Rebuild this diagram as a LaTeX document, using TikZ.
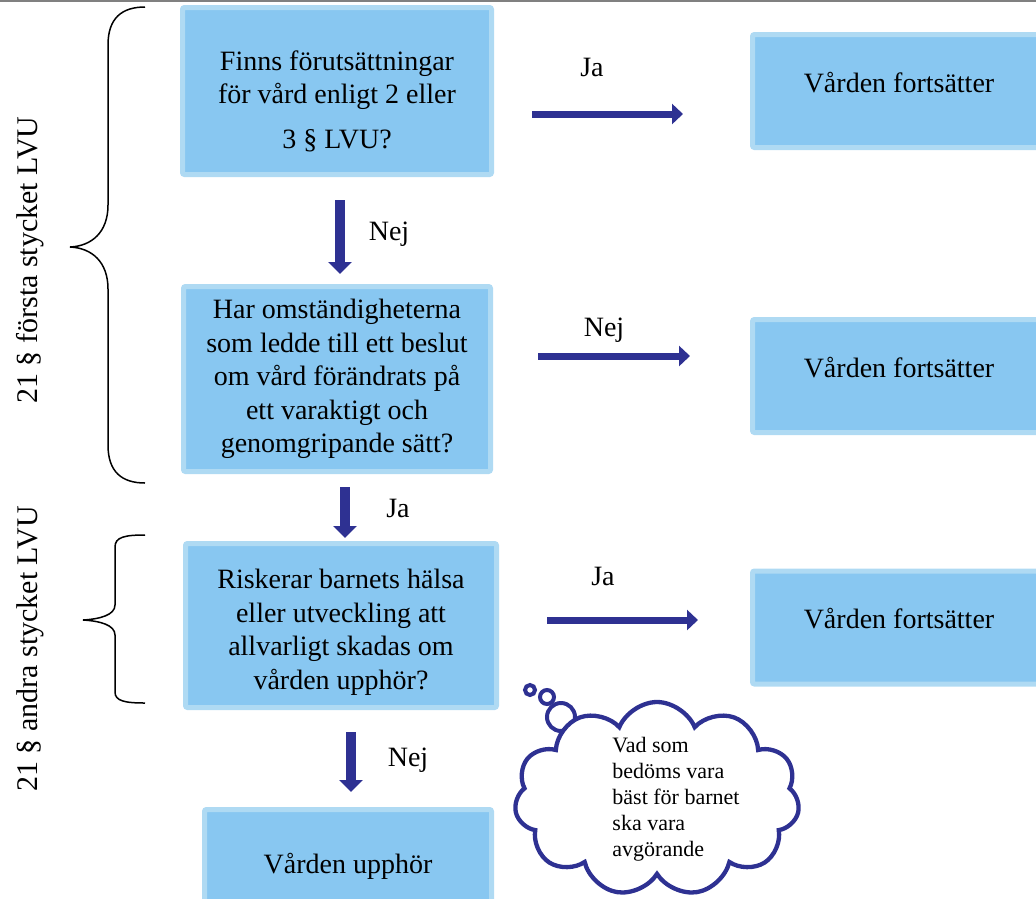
\documentclass[tikz,border=0pt]{standalone}
\usepackage{fontspec}
\setmainfont{Liberation Serif}
\usetikzlibrary{arrows.meta,shapes.symbols}
\definecolor{rutfarg}{HTML}{88C7F1}
\definecolor{kantfarg}{HTML}{AFDAF3}
\definecolor{pilfarg}{HTML}{2E3192}
\tikzset{
  ruta/.style = {rectangle, fill=rutfarg, draw=kantfarg, line width=5pt,
    rounded corners=2pt, align=center, inner sep=0pt, outer sep=0pt,
    font=\fontsize{28}{33.5}\selectfont},
  fraga/.style = {ruta},% fragerutor till vanster
  utfall/.style = {ruta, minimum width=293pt, minimum height=113pt,
    text height=20pt, text depth=18pt},% vården fortsätter
  pil_h/.style = {draw=pilfarg, line width=7pt,
    -{Triangle[length=11pt,width=20pt]}},
  pil_v/.style = {draw=pilfarg, line width=9.5pt,
    -{Triangle[length=12pt,width=23pt]}},
  etikett/.style = {inner sep=0pt, font=\fontsize{28}{33.5}\selectfont},
  klammer/.style = {draw=black, line width=1.5pt},
  moln/.style = {cloud, cloud puffs=11, cloud puff arc=135, aspect=1.45,
    draw=pilfarg, fill=white, line width=4.3pt, inner sep=0pt,
    minimum width=285pt, minimum height=194pt,
    font=\fontsize{22}{26}\selectfont},
  bubbla/.style = {draw=pilfarg, fill=white, line width=4pt}
}

\begin{document}
\begin{tikzpicture}[x=1pt,y=-1pt]
\useasboundingbox (0,0) rectangle (1036,898);
\clip (0,0) rectangle (1036,898);
\draw[draw=gray, line width=2.5pt] (0,1.2) -- (1036,1.2);

% fragor
\node[fraga, minimum width=309pt, minimum height=167pt] (q1) at (337,91)
  {\rule{0pt}{40pt}Finns förutsättningar\\ för vård enligt 2 eller\\[11pt] 3 § LVU?};
\node[fraga, minimum width=307pt, minimum height=185pt] (q2) at (337,379)
  {Har omständigheterna\\ som ledde till ett beslut\\ om vård förändrats på\\
   ett varaktigt och\\ genomgripande sätt?};
\node[fraga, minimum width=311pt, minimum height=164pt] (q3) at (341,625.5)
  {\rule{0pt}{33pt}Riskerar barnets hälsa\\ eller utveckling att\\
   allvarligt skadas om\\ vården upphör?};
\node[fraga, minimum width=287pt, minimum height=113pt] (q4) at (348,866)
  {Vården upphör};

% utfall
\node[utfall] (r1) at (899,91) {Vården fortsätter};
\node[utfall] (r2) at (899,376) {Vården fortsätter};
\node[utfall] (r3) at (899,627.5) {Vården fortsätter};

% pilar
\draw[pil_h, shorten <=40.5pt, shorten >=69.5pt]
  ([yshift=-23pt]q1.east) -- ([yshift=-23pt]r1.west);
\draw[pil_h, shorten <=47.5pt, shorten >=62.5pt]
  ([yshift=23pt]q2.east) -- ([yshift=20pt]r2.west);
\draw[pil_h, shorten <=50.5pt, shorten >=54.5pt]
  ([yshift=5.5pt]q3.east) -- ([yshift=7.5pt]r3.west);
\draw[pil_v, shorten <=25.5pt, shorten >=12.5pt]
  ([xshift=3pt]q1.south) -- ([xshift=3pt]q2.north);
\draw[pil_v, shorten <=15.5pt, shorten >=5.5pt]
  ([xshift=8pt]q2.south) -- ([xshift=4pt]q3.north);
\draw[pil_v, shorten <=24.5pt, shorten >=17.5pt]
  ([xshift=10pt]q3.south) -- ([xshift=3pt]q4.north);

\node[etikett] (ja1) at (592,67) {Ja};
\node[etikett] (nej1) at (389,234) {Nej};
\node[etikett] (nej2) at (604,330) {Nej};
\node[etikett] (ja2) at (398,508) {Ja};
\node[etikett] (ja3) at (603,576) {Ja};
\node[etikett] (nej3) at (408,760) {Nej};

% klamrar och paragrafer
\draw[klammer] (145,7) .. controls (122,7) and (108,18) .. (108,45)
  -- (108,205) .. controls (108,232) and (92,246) .. (70,247)
  .. controls (92,248) and (108,262) .. (108,289)
  -- (108,445) .. controls (108,472) and (122,483) .. (145,483);
\draw[klammer] (145,535) .. controls (125,535) and (115,537) .. (115,547)
  -- (115,605) .. controls (115,615) and (100,619) .. (83,620)
  .. controls (100,621) and (115,625) .. (115,635)
  -- (115,692) .. controls (115,701) and (125,703) .. (145,703);
\node[rotate=90, font=\fontsize{30}{36}\selectfont] (p1) at (30,260)
  {21 § första stycket LVU};
\node[rotate=90, font=\fontsize{30}{36}\selectfont] (p2) at (30,649)
  {21 § andra stycket LVU};

% tankebubbla
\draw[bubbla] (530,690) circle (5);
\draw[bubbla] (547,697) circle (7);
\draw[bubbla] (561,717) circle (14);
\node[moln] (moln) at (657,799)
  {\smash{\makebox[0pt]{\hspace*{38pt}\raisebox{-5pt}{\begin{tabular}{@{}l@{}}Vad som\\
   bedöms vara\\ bäst för barnet\\ ska vara\\ avgörande\end{tabular}}}}};
\end{tikzpicture}
\end{document}
